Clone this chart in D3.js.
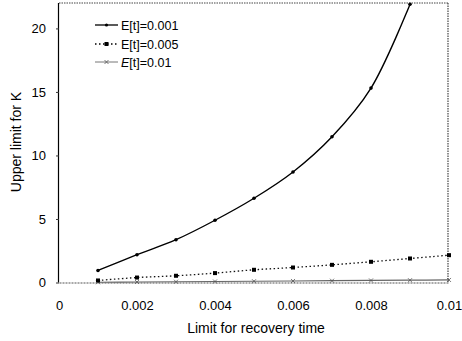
<!DOCTYPE html>
<html><head><meta charset="utf-8">
<script src="https://cdn.jsdelivr.net/npm/d3@7"></script>
<style>
body{margin:0;background:#fff;}
text{font-family:"Liberation Sans",Arial,sans-serif;fill:#000;}
</style></head>
<body><svg id="c" width="462" height="341"></svg>
<script>
const xValues = [0.001,0.002,0.003,0.004,0.005,0.006,0.007,0.008,0.009,0.01];
const series1 = [0.95,2.19,3.37,4.9,6.63,8.7,11.47,15.3,21.9];
const series2 = [0.16,0.39,0.53,0.74,1.0,1.18,1.39,1.63,1.89,2.15];
const series3 = [0.02,0.04,0.06,0.08,0.1,0.12,0.14,0.16,0.18,0.2];
const seriesNames = ["E[t]=0.001","E[t]=0.005","E[t]=0.01"];
const xTicks = [0,0.002,0.004,0.006,0.008,0.01];
const xTickLabels = ["0","0.002","0.004","0.006","0.008","0.01"];
const yTicks = [0,5,10,15,20];

const svg = d3.select("#c");
const L=59,R=448,T=3,B=282.5;
const x = d3.scaleLinear().domain([0,0.01]).range([L,449]);
const y = d3.scaleLinear().domain([0,22]).range([B,T]);

// frame: dotted top/right
svg.append("line").attr("x1",L).attr("x2",R).attr("y1",T).attr("y2",T)
  .attr("stroke","#444").attr("stroke-width",1.2).attr("stroke-dasharray","1.5,1");
svg.append("line").attr("x1",R).attr("x2",R).attr("y1",T).attr("y2",B)
  .attr("stroke","#444").attr("stroke-width",1.2).attr("stroke-dasharray","1.5,1");

// x axis
const xAxis = d3.axisBottom(x).tickValues(xTicks).tickFormat((d,i)=>xTickLabels[i]).tickSize(0).tickPadding(18);
const gx = svg.append("g").attr("transform",`translate(0,${B})`).call(xAxis);
gx.select(".domain").attr("stroke","#555").attr("stroke-width",1.2).attr("stroke-dasharray","2,1");
gx.selectAll("text").attr("font-size",13).attr("font-family","Liberation Sans, Arial, sans-serif");

// y axis
const yAxis = d3.axisLeft(y).tickValues(yTicks).tickSize(3).tickPadding(10);
const gy = svg.append("g").attr("transform",`translate(${L},0)`).call(yAxis);
gy.select(".domain").attr("stroke","#000").attr("stroke-width",1.2).attr("d",`M-0.5,${T}V${B}`);
gy.selectAll(".tick line").attr("stroke","#333");
gy.selectAll("text").attr("font-size",13).attr("font-family","Liberation Sans, Arial, sans-serif");

// axis titles
svg.append("text").attr("x",256).attr("y",333).attr("text-anchor","middle").attr("font-size",14).text("Limit for recovery time");
svg.append("text").attr("transform","translate(21,142) rotate(-90)").attr("text-anchor","middle").attr("font-size",14).text("Upper limit for K");

svg.append("clipPath").attr("id","clp").append("rect").attr("x",L).attr("y",T-1).attr("width",R-L+4).attr("height",B-T+4);

const line = d3.line().x(d=>x(d[0])).y(d=>y(d[1])).curve(d3.curveCatmullRom.alpha(0.5));
const d1 = series1.map((v,i)=>[xValues[i],v]);
const d2 = series2.map((v,i)=>[xValues[i],v]);
const d3s = series3.map((v,i)=>[xValues[i],v]);

const g = svg.append("g").attr("clip-path","url(#clp)");
// series 3
g.append("path").datum(d3s).attr("d",line).attr("fill","none").attr("stroke","#666").attr("stroke-width",1.2);
d3s.forEach(d=>{
  const cx=x(d[0]), cy=y(d[1]);
  g.append("path").attr("d",`M${cx-2},${cy-2}L${cx+2},${cy+2}M${cx-2},${cy+2}L${cx+2},${cy-2}`).attr("stroke","#555").attr("stroke-width",0.8);
});
// series 2
g.append("path").datum(d2).attr("d",line).attr("fill","none").attr("stroke","#111").attr("stroke-width",1.3).attr("stroke-dasharray","1.5,2.5");
g.selectAll(".m2").data(d2).enter().append("rect").attr("x",d=>x(d[0])-2).attr("y",d=>y(d[1])-2).attr("width",4).attr("height",4).attr("fill","#000");
// series 1
g.append("path").datum(d1).attr("d",line).attr("fill","none").attr("stroke","#000").attr("stroke-width",1.4);
g.selectAll(".m1").data(d1).enter().append("circle").attr("cx",d=>x(d[0])).attr("cy",d=>y(d[1])).attr("r",1.8).attr("fill","#000");

// legend
const lg = svg.append("g");
const rows=[25,44,62];
seriesNames.forEach((n,i)=>{
  const yy=rows[i];
  const ln = lg.append("line").attr("x1",95).attr("x2",118).attr("y1",yy).attr("y2",yy);
  if(i===0){ ln.attr("stroke","#000").attr("stroke-width",1.3);
    lg.append("circle").attr("cx",106.5).attr("cy",yy).attr("r",1.6).attr("fill","#000"); }
  if(i===1){ ln.attr("stroke","#000").attr("stroke-width",1.3).attr("stroke-dasharray","1.5,2.5");
    lg.append("rect").attr("x",104.5).attr("y",yy-2).attr("width",4).attr("height",4).attr("fill","#000"); }
  if(i===2){ ln.attr("stroke","#777").attr("stroke-width",1);
    lg.append("path").attr("d",`M104.5,${yy-2}L108.5,${yy+2}M104.5,${yy+2}L108.5,${yy-2}`).attr("stroke","#555").attr("stroke-width",0.8); }
  const t = lg.append("text").attr("x",121).attr("y",yy+4.5).attr("font-size",12.5);
  if(i===2){ t.append("tspan").attr("font-style","italic").text("E"); t.append("tspan").text("[t]=0.01"); }
  else t.text(n);
});
</script></body></html>
